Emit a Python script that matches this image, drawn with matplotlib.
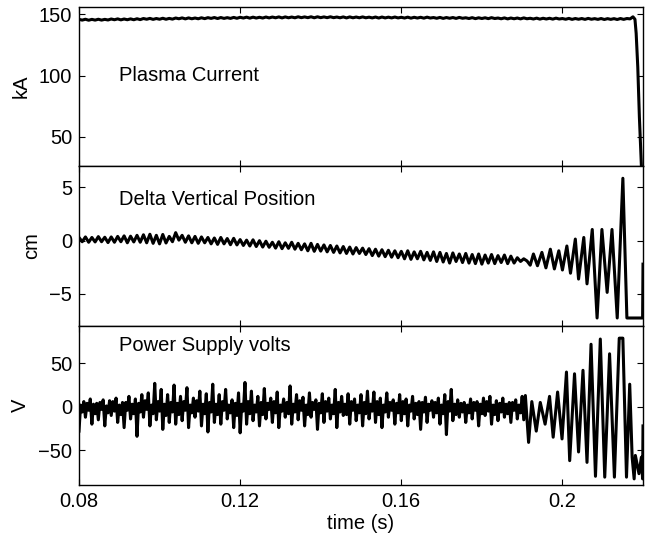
import numpy as np
import matplotlib
matplotlib.use("Agg")
import matplotlib.pyplot as plt

plt.rcParams['font.family'] = ['Liberation Sans', 'DejaVu Sans']

# read-off spacing: half an oscillation period for current/position,
# a quarter period for the noisier supply voltage (seconds)
half_period = 0.0008
quarter_period = 0.0004
t0 = 0.08

# --- Plasma current (kA), ripple read every half period from 0.08 s
plasma_current = [
    145.9, 145.3, 146.0, 145.2, 145.9, 145.3, 146.0, 145.3, 145.9, 145.4,
    146.2, 145.6, 146.3, 145.5, 146.2, 145.6, 146.3, 145.6, 146.4, 145.7,
    146.6, 146.0, 146.7, 145.9, 146.6, 146.0, 146.8, 146.0, 146.7, 146.1,
    147.0, 146.4, 147.1, 146.3, 147.1, 146.4, 147.0, 146.4, 147.2, 146.5,
    147.3, 146.7, 147.4, 146.6, 147.4, 146.7, 147.3, 146.7, 147.5, 146.8,
    147.6, 147.0, 147.7, 146.9, 147.7, 147.0, 147.6, 147.0, 147.8, 147.1,
    147.8, 147.2, 147.9, 147.1, 147.9, 147.2, 147.8, 147.2, 148.0, 147.3,
    147.9, 147.3, 148.0, 147.2, 148.0, 147.3, 147.9, 147.3, 148.0, 147.3,
    147.8, 147.2, 147.9, 147.1, 147.9, 147.2, 147.8, 147.2, 147.9, 147.2,
    147.7, 147.1, 147.8, 147.0, 147.8, 147.1, 147.7, 147.1, 147.8, 147.1,
    147.6, 147.0, 147.7, 146.9, 147.6, 147.0, 147.6, 146.9, 147.7, 147.0,
    147.4, 146.8, 147.5, 146.7, 147.4, 146.8, 147.4, 146.7, 147.5, 146.8,
    147.2, 146.6, 147.3, 146.5, 147.2, 146.6, 147.2, 146.5, 147.3, 146.6,
    147.0, 146.4, 147.1, 146.3, 147.0, 146.4, 147.0, 146.3, 147.1, 146.4,
    146.8, 146.2, 146.9, 146.1, 146.8, 146.2, 146.8, 146.1, 146.9, 146.2,
    146.6, 146.0, 146.7, 145.9, 146.6, 146.0, 146.6, 145.9, 146.7, 146.0,
    146.5, 145.9, 146.6, 145.8, 146.5, 145.9, 146.5, 145.8, 146.6, 145.9,
    146.6, 146.3,
]
# disruption at the end
current_tail_t = [0.2175, 0.2180, 0.2183, 0.2187, 0.2191, 0.2196, 0.2200]
current_tail_v = [148.0, 146.0, 134.5, 107.0, 66.0, 26.0, 10.0]

# --- Delta vertical position (cm)
vertical_pos = [
    0.30, -0.10, 0.35, -0.15, 0.30, -0.12, 0.38, -0.10, 0.32, -0.18,
    0.35, -0.15, 0.40, -0.10, 0.45, -0.20, 0.42, -0.12, 0.50, -0.15,
    0.55, -0.20, 0.60, -0.25, 0.50, -0.30, 0.58, -0.22, 0.40, -0.10,
    0.75, 0.05, 0.50, -0.15, 0.45, -0.20, 0.40, -0.25, 0.35, -0.20,
    0.30, -0.30, 0.25, -0.35, 0.30, -0.30, 0.20, -0.38, 0.22, -0.40,
    0.10, -0.45, 0.05, -0.50, 0.08, -0.55, 0.00, -0.60, -0.05, -0.62,
    -0.15, -0.70, -0.10, -0.75, -0.20, -0.72, -0.15, -0.80, -0.25, -0.85,
    -0.30, -0.95, -0.25, -1.00, -0.35, -0.98, -0.40, -1.05, -0.45, -1.10,
    -0.50, -1.15, -0.55, -1.20, -0.60, -1.25, -0.65, -1.20, -0.70, -1.30,
    -0.75, -1.40, -0.80, -1.45, -0.85, -1.50, -0.90, -1.55, -0.95, -1.60,
    -1.00, -1.70, -0.95, -1.75, -1.05, -1.70, -1.00, -1.80, -1.10, -1.85,
    -1.05, -1.95, -1.10, -2.00, -1.20, -2.10, -1.15, -1.95, -1.25, -2.05,
    -1.20, -2.10, -1.30, -2.15, -1.25, -2.20, -1.35, -2.10, -1.30, -2.15,
    -1.40, -2.05, -1.35, -2.15, -1.45, -2.10, -1.60, -1.95, -1.70, -1.90,
    -2.30,
]
vert_tail_t = [0.1928, 0.1938, 0.1949, 0.1959, 0.1970, 0.1980, 0.1991, 0.2000,
               0.2011, 0.2020, 0.2032, 0.2040, 0.2053, 0.2061, 0.2074, 0.2086,
               0.2098, 0.2111, 0.2123, 0.2136, 0.2150, 0.2160, 0.2199, 0.2200]
vert_tail_v = [-1.25, -2.35, -1.10, -2.55, -0.80, -2.65, -0.95, -2.75,
               -0.50, -3.05, 0.15, -3.60, 0.30, -4.05, 1.05, -7.25,
               1.05, -4.85, 1.05, -7.25, 5.85, -7.25, -7.25, -2.20]

# --- Power supply volts (V), read every quarter period
supply_volts = [
    -28, 2, -6, 6, -12, 4, -4, 9, -20, 3, -8, 4, -15, 5, -3, 8, -22, 1, -7, 7,
    -10, 6, -5, 10, -18, 2, -9, 5, -24, 5, -4, 12, -14, 3, -8, 9, -34, 4, -6, 14,
    -12, 7, -3, 16, -22, 2, -8, 27, -15, 6, -5, 20, -26, 3, -10, 14, -18, 5, -6, 25,
    -20, 4, -9, 12, -16, 6, -4, 22, -24, 2, -7, 10, -12, 7, -5, 18, -22, 3, -8, 15,
    -29, 5, -6, 26, -18, 3, -9, 14, -20, 6, -4, 20, -14, 2, -7, 8, -24, 4, -10, 16,
    -30, 3, -5, 28, -20, 6, -8, 18, -16, 2, -6, 12, -22, 5, -9, 21, -14, 4, -3, 10,
    -18, 6, -7, 17, -24, 2, -5, 9, -12, 5, -8, 24, -20, 3, -6, 14, -15, 7, -4, 11,
    -22, 2, -9, 16, -12, 5, -3, 8, -26, 4, -7, 15, -18, 6, -5, 10, -14, 2, -8, 20,
    -24, 5, -6, 12, -10, 3, -9, 15, -20, 6, -4, 9, -16, 2, -7, 14, -22, 5, -8, 18,
    -14, 3, -5, 17, -18, 6, -9, 10, -24, 2, -6, 16, -12, 5, -4, 8, -20, 4, -7, 14,
    -16, 6, -8, 9, -22, 2, -5, 12, -14, 4, -9, 6, -26, 5, -6, 11, -18, 3, -4, 7,
    -12, 5, -7, 10, -20, 2, -8, 14, -32, 6, -5, 20, -16, 3, -9, 8, -12, 4, -6, 5,
    -18, 2, -7, 9, -14, 5, -4, 6, -22, 3, -8, 10, -10, 6, -5, 12, -20, 2, -9, 7,
    -16, 4, -6, 10, -12, 3, -8, 5, -18, 5, -4, 8, -14, 2, -7, 12, -15,
]
volts_tail_t = [0.1908, 0.1916, 0.1924, 0.1935, 0.1945, 0.1957, 0.1968, 0.1977,
                0.1988, 0.1999, 0.2010, 0.2018, 0.2030, 0.2040, 0.2051, 0.2061,
                0.2071, 0.2082, 0.2094, 0.2105, 0.2117, 0.2129, 0.2141, 0.2150,
                0.2159, 0.2167, 0.2173, 0.2178, 0.2181, 0.2190, 0.2196, 0.2199,
                0.2200]
volts_tail_v = [13, -41, 6, -28, 5, -20, 12, -35, 17, -37, 40, -62, 38, -52,
                42, -64, 72, -80, 78, -81, 61, -81, 79, 79, -81, 26, -58, -83,
                -56, -77, -58, -83, -22]

panel_text = ["Plasma Current", "Delta Vertical Position", "Power Supply volts"]
y_units = ["kA", "cm", "V"]
x_ticks = [0.08, 0.12, 0.16, 0.2]
x_tick_labels = ["0.08", "0.12", "0.16", "0.2"]


def full_series(early, step, tail_t, tail_v):
    t = t0 + step * np.arange(len(early))
    return np.concatenate([t, tail_t]), np.concatenate([early, tail_v])


series = [full_series(plasma_current, half_period, current_tail_t, current_tail_v),
          full_series(vertical_pos, half_period, vert_tail_t, vert_tail_v),
          full_series(supply_volts, quarter_period, volts_tail_t, volts_tail_v)]

ylims = [(26, 156), (-8, 7), (-90, 93)]
yticks = [[50, 100, 150], [-5, 0, 5], [-50, 0, 50]]
text_y = [100, 3.9, 71]

fig = plt.figure(figsize=(6.48, 5.4), dpi=100)
rects = [[0.1219, 0.6926, 0.8704, 0.2944],
         [0.1219, 0.3963, 0.8704, 0.2963],
         [0.1219, 0.1019, 0.8704, 0.2944]]

for i, rect in enumerate(rects):
    ax = fig.add_axes(rect)
    t, v = series[i]
    ax.plot(t, v, color='black', lw=2.2, solid_joinstyle='round')
    ax.set_xlim(0.08, 0.22)
    ax.set_ylim(*ylims[i])
    ax.set_yticks(yticks[i])
    ax.set_xticks(x_ticks)
    ax.tick_params(direction='in', top=True, right=True, length=4, width=0.8,
                   labelsize=14.5, pad=5, colors='black')
    for s in ax.spines.values():
        s.set_linewidth(1.0)
    ax.set_ylabel(y_units[i], fontsize=14.5, labelpad=6)
    ax.text(0.0899, text_y[i], panel_text[i], fontsize=14.5, va='center', ha='left')
    if i < 2:
        ax.set_xticklabels([])
    else:
        ax.set_xticklabels(x_tick_labels)
        ax.set_xlabel("time (s)", fontsize=14.5, labelpad=2)

fig.savefig("out.png", dpi=100)
